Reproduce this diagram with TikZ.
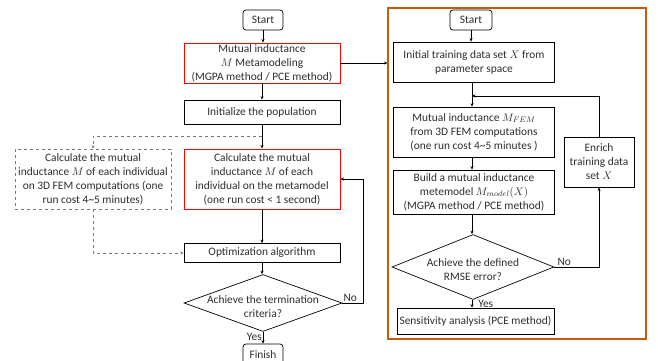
\documentclass[tikz,border=0pt]{standalone}
\usepackage{fontspec}
\setmainfont{Carlito}
\usetikzlibrary{shapes.geometric,arrows.meta}
\definecolor{frameorange}{RGB}{197,90,17}
\definecolor{boxred}{RGB}{255,0,0}
\definecolor{dgray}{RGB}{118,118,118}
\definecolor{txtgray}{RGB}{45,45,45}
\tikzset{
  txt/.style={font=\fontsize{11.4}{14}\selectfont, align=center, inner sep=0pt, text=txtgray},
  box/.style={txt, draw, line width=0.7pt},
  redbox/.style={txt, draw=boxred, line width=0.9pt},
  dbox/.style={txt, draw=dgray, dashed, line width=0.7pt},
  term/.style={box, rounded corners=3pt},
  dia/.style={draw, shape=diamond, line width=0.7pt, inner sep=0pt},
  arr/.style={-{Stealth[length=3.5pt,width=3pt]}, line width=0.6pt},
  darr/.style={arr, dashed, draw=dgray},
  lab/.style={font=\fontsize{11.4}{13}\selectfont, inner sep=1pt, text=txtgray}
}
\begin{document}
\begin{tikzpicture}[x=1pt,y=-1pt]
\useasboundingbox (0,0) rectangle (658,361);
% left column
\node[term, minimum width=40, minimum height=20] (s1) at (263,20) {Start};
\node[redbox, minimum width=156, minimum height=40] (meta) at (262,63)
  {Mutual inductance\\$M$ Metamodeling\\(MGPA method / PCE method)};
\node[box, minimum width=156, minimum height=24] (init) at (262,112) {Initialize the population};
\node[dbox, minimum width=156, minimum height=60] (fem1) at (93,179)
  {Calculate the mutual\\inductance $M$ of each individual\\on 3D FEM computations (one\\run cost 4\textasciitilde5 minutes)};
\node[redbox, minimum width=156, minimum height=60] (calc) at (262,179)
  {Calculate the mutual\\inductance $M$ of each\\individual on the metamodel\\(one run cost < 1 second)};
\node[box, minimum width=156, minimum height=19] (opt) at (262,253) {Optimization algorithm};
\node[dia, minimum width=158, minimum height=57] (d1) at (263,303) {};
\node[txt] (d1t) at (263,307) {Achieve the termination\\criteria?};
\node[term, minimum width=40, minimum height=22] (fin) at (263,355) {Finish};
\coordinate (br) at (262,136);
\coordinate (lp) at (363,303);
% right frame
\node[draw=frameorange, line width=1.1pt, minimum width=258, minimum height=331, inner sep=0pt] (frame) at (517,173.5) {};
\node[term, minimum width=42, minimum height=20] (s2) at (471,20) {Start};
\node[box, minimum width=161, minimum height=40] (initd) at (474,62)
  {Initial training data set $X$ from\\parameter space};
\node[box, minimum width=161, minimum height=50] (femr) at (474,132)
  {Mutual inductance $M_{FEM}$\\from 3D FEM computations\\(one run cost 4\textasciitilde5 minutes )};
\node[box, minimum width=161, minimum height=44] (build) at (474,192)
  {Build a mutual inductance\\metemodel $M_{model}(X)$\\(MGPA method / PCE method)};
\node[dia, minimum width=162, minimum height=65] (d2) at (473,267) {};
\node[txt] (d2t) at (473,270) {Achieve the defined\\RMSE error?};
\node[box, minimum width=157, minimum height=26] (sens) at (475.5,321) {Sensitivity analysis (PCE method)};
\node[box, minimum width=70, minimum height=50] (enr) at (599,162) {Enrich\\training data\\set $X$};
\coordinate (j) at (472,96);
% left connectors
\draw[arr] (s1.south) -- (s1.south |- meta.north);
\draw[arr] (meta.south) -- (init.north);
\draw[arr] (init.south) -- (calc.north);
\draw[darr] (br) -| (fem1.north);
\draw[darr] (fem1.south) |- (opt.west);
\draw[arr] (calc.south) -- (opt.north);
\draw[arr] (opt.south) -- (opt.south |- d1.north);
\draw[arr] (d1.south) -- (d1.south |- fin.north) node[lab, pos=0.45, anchor=east] (y1) {Yes};
\draw[arr] (d1.east) -- (lp) |- (calc.east);
\node[lab, anchor=south west] (n1) at (d1.east) {No};
\draw[arr] (meta.east) -- (meta.east -| frame.west);
% right connectors
\draw[arr] (s2.south) -- (s2.south |- initd.north);
\draw[arr] (initd.south -| j) -- (femr.north -| j);
\draw[arr] (enr.north) |- (j);
\draw[arr] (femr.south -| j) -- (build.north -| j);
\draw[arr] (build.south -| j) -- (d2.north -| j);
\draw[arr] (d2.south -| j) -- (sens.north -| j) node[lab, pos=0.5, anchor=west, xshift=5pt] (y2) {Yes};
\draw[arr] (d2.east) -| (enr.south);
\node[lab, anchor=south west, xshift=2pt] (n2) at (d2.east) {No};
\end{tikzpicture}
\end{document}
